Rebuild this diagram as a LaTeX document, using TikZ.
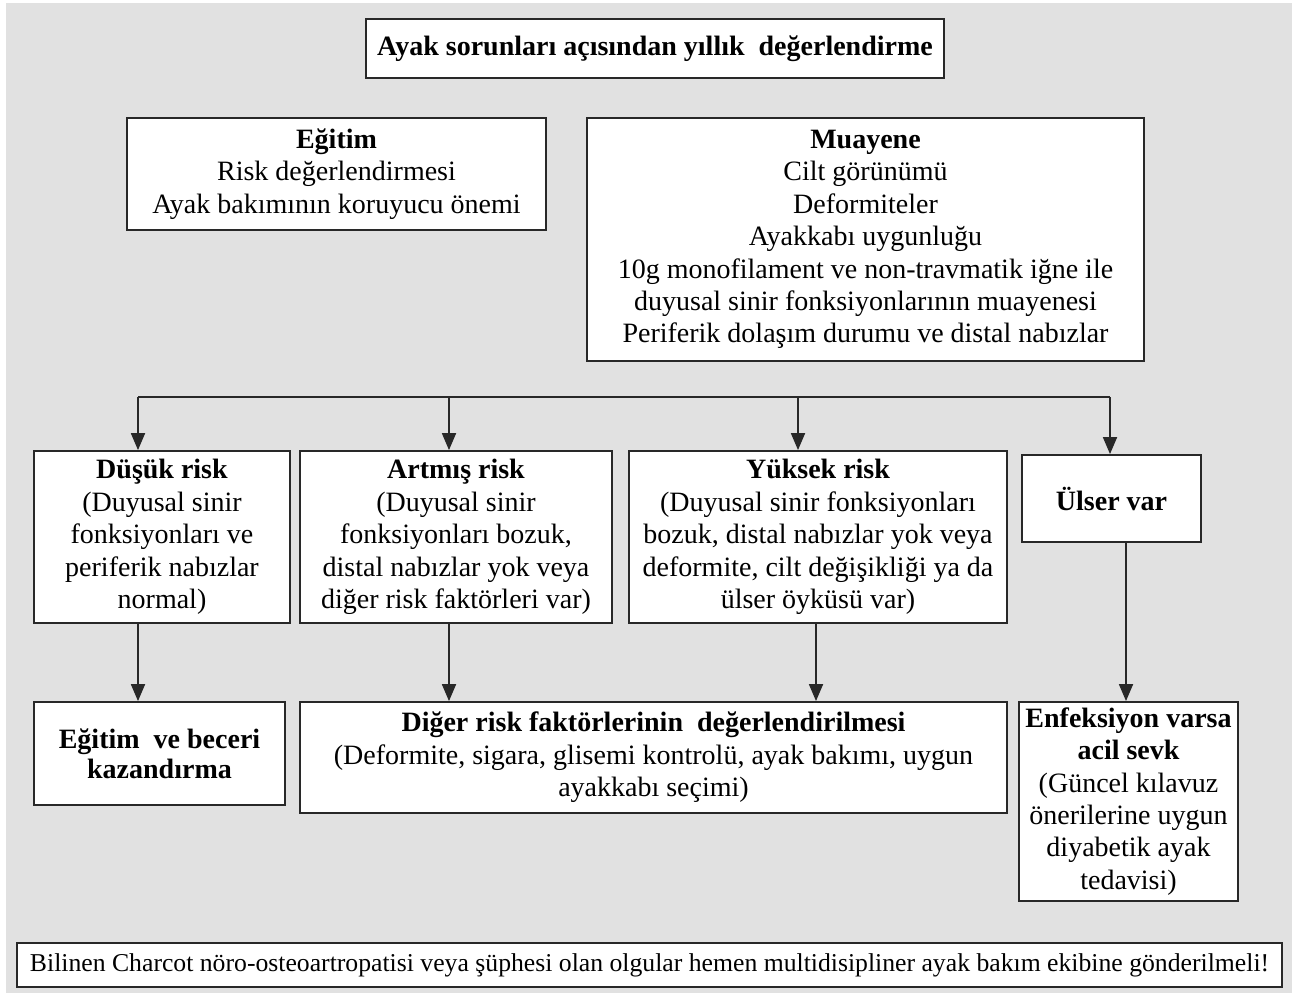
\documentclass[tikz,border=0pt]{standalone}
\usepackage{fontspec}
\setmainfont{Liberation Serif}
\usetikzlibrary{arrows.meta}
\definecolor{bgcol}{RGB}{225,225,225}
\definecolor{linecol}{RGB}{40,40,40}
\begin{document}
\begin{tikzpicture}[x=1pt,y=-1pt,
  box/.style={draw=linecol, line width=1.8pt, fill=white, align=center,
    inner sep=2pt, text=black, font=\fontsize{28}{32.4}\selectfont},
  arr/.style={draw=linecol, line width=1.8pt, -{Triangle[length=17pt,width=14pt]}},
  ln/.style={draw=linecol, line width=1.8pt}]
\useasboundingbox (0,0) rectangle (1297,995);
\fill[white] (0,0) rectangle (1297,995);
\fill[bgcol] (6,3) rectangle (1292,993);

\node[box, minimum width=578pt, minimum height=59pt] (title) at (655,48.5)
  {\textbf{Ayak sorunları açısından yıllık\ \ değerlendirme}};
\node[box, minimum width=419pt, minimum height=112pt] (egitim) at (336.5,174)
  {\textbf{Eğitim}\\Risk değerlendirmesi\\Ayak bakımının koruyucu önemi};
\node[box, minimum width=557pt, minimum height=243pt] (muayene) at (865.5,239.5)
  {\textbf{Muayene}\\Cilt görünümü\\Deformiteler\\Ayakkabı uygunluğu\\10g monofilament ve non-travmatik iğne ile\\duyusal sinir fonksiyonlarının muayenesi\\Periferik dolaşım durumu ve distal nabızlar};

\node[box, minimum width=256pt, minimum height=172pt] (dusuk) at (162,537)
  {\textbf{Düşük risk}\\(Duyusal sinir\\fonksiyonları ve\\periferik nabızlar\\normal)};
\node[box, minimum width=312pt, minimum height=172pt] (artmis) at (456,537)
  {\textbf{Artmış risk}\\(Duyusal sinir\\fonksiyonları bozuk,\\distal nabızlar yok veya\\diğer risk faktörleri var)};
\node[box, minimum width=378pt, minimum height=172pt] (yuksek) at (818,537)
  {\textbf{Yüksek risk}\\(Duyusal sinir fonksiyonları\\bozuk, distal nabızlar yok veya\\deformite, cilt değişikliği ya da\\ülser öyküsü var)};
\node[box, minimum width=179pt, minimum height=87pt] (ulser) at (1111.5,498.5)
  {\textbf{Ülser var}};

\node[box, minimum width=251pt, minimum height=103pt, font=\fontsize{28}{30}\selectfont] (beceri) at (159.5,753.5)
  {\textbf{Eğitim\ \ ve beceri}\\\textbf{kazandırma}};
\node[box, minimum width=707pt, minimum height=111pt] (diger) at (653.5,757.5)
  {\textbf{Diğer risk faktörlerinin\ \ değerlendirilmesi}\\(Deformite, sigara, glisemi kontrolü, ayak bakımı, uygun\\ayakkabı seçimi)};
\node[box, minimum width=219pt, minimum height=199pt] (enf) at (1128.5,801.5)
  {\textbf{Enfeksiyon\ varsa}\\\textbf{acil sevk}\\(Güncel kılavuz\\önerilerine uygun\\diyabetik ayak\\tedavisi)};

\node[box, minimum width=1265pt, minimum height=44pt, font=\fontsize{25.7}{30}\selectfont] (note) at (649.5,965)
  {Bilinen Charcot nöro-osteoartropatisi veya şüphesi olan olgular hemen multidisipliner ayak bakım ekibine gönderilmeli!};

% bus
\coordinate (b1) at (138,397);
\coordinate (b2) at (449,397);
\coordinate (b3) at (798,397);
\coordinate (b4) at (1110,397);
\draw[ln] (b1) -- (b4);
\draw[arr] (b1) -- (b1 |- dusuk.north);
\draw[arr] (b2) -- (b2 |- artmis.north);
\draw[arr] (b3) -- (b3 |- yuksek.north);
\draw[arr] (b4) -- (b4 |- ulser.north);

% lower arrows
\coordinate (c1) at (138,0);
\coordinate (c2) at (449,0);
\coordinate (c3) at (816,0);
\coordinate (c4) at (1126,0);
\draw[arr] (c1 |- dusuk.south) -- (c1 |- beceri.north);
\draw[arr] (c2 |- artmis.south) -- (c2 |- diger.north);
\draw[arr] (c3 |- yuksek.south) -- (c3 |- diger.north);
\draw[arr] (c4 |- ulser.south) -- (c4 |- enf.north);
\end{tikzpicture}
\end{document}
